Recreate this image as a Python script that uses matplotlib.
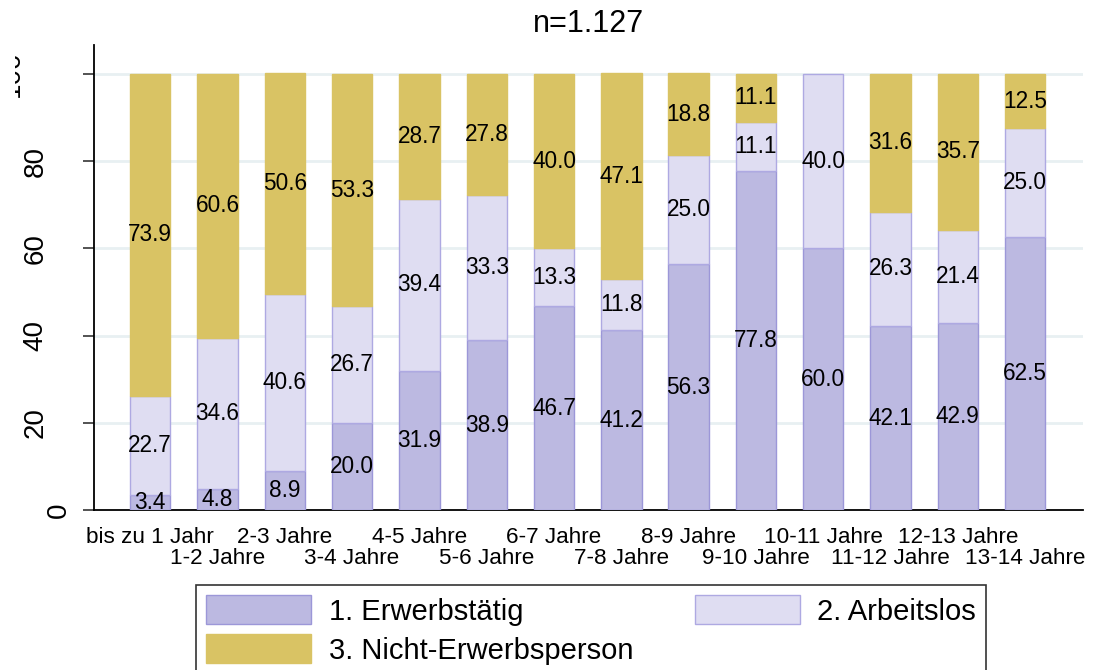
import matplotlib
matplotlib.use("Agg")
import matplotlib.pyplot as plt
from matplotlib.transforms import Bbox, TransformedBbox
import numpy as np

plt.rcParams['font.family'] = ['Liberation Sans', 'DejaVu Sans']

categories = ["bis zu 1 Jahr", "1-2 Jahre", "2-3 Jahre", "3-4 Jahre", "4-5 Jahre",
              "5-6 Jahre", "6-7 Jahre", "7-8 Jahre", "8-9 Jahre", "9-10 Jahre",
              "10-11 Jahre", "11-12 Jahre", "12-13 Jahre", "13-14 Jahre"]
erwerbstaetig = [3.4, 4.8, 8.9, 20.0, 31.9, 38.9, 46.7, 41.2, 56.3, 77.8, 60.0, 42.1, 42.9, 62.5]
arbeitslos = [22.7, 34.6, 40.6, 26.7, 39.4, 33.3, 13.3, 11.8, 25.0, 11.1, 40.0, 26.3, 21.4, 25.0]
nicht_erwerb = [73.9, 60.6, 50.6, 53.3, 28.7, 27.8, 40.0, 47.1, 18.8, 11.1, 0.0, 31.6, 35.7, 12.5]
series_names = ["1. Erwerbstätig", "2. Arbeitslos", "3. Nicht-Erwerbsperson"]
title = "n=1.127"
yticks = [0, 20, 40, 60, 80, 100]

W, H = 1094, 670
fig = plt.figure(figsize=(W / 100, H / 100), dpi=100)
ax_l, ax_r, ax_b, ax_t = 94, 1083, 510, 45
ax = fig.add_axes([ax_l / W, 1 - ax_b / H, (ax_r - ax_l) / W, (ax_b - ax_t) / H])

x = np.arange(len(categories))
fills = ["#bcb9e1", "#dfddf2", "#d9c364"]
edges = ["#9c97d8", "#aea9e2", "#d9c364"]

bottom = np.zeros(len(categories))
handles = []
for vals, fc, ec, name in zip([erwerbstaetig, arbeitslos, nicht_erwerb], fills, edges, series_names):
    vals = np.array(vals)
    bc = ax.bar(x, vals, bottom=bottom, width=0.6, color=fc, edgecolor=ec,
                linewidth=1.0, label=name, zorder=3)
    handles.append(bc)
    for patch, v in zip(bc.patches, vals):
        if v <= 0:
            patch.set_visible(False)
    for xi, b, v in zip(x, bottom, vals):
        if v > 0:
            ax.text(xi, b + v / 2, f"{v:.1f}", ha="center", va="center",
                    fontsize=16.3, color="black", zorder=4)
    bottom = bottom + vals

ax.set_xlim(-0.835, 13.86)
ax.set_ylim(0, 106.6)

# grid
for yv in yticks[1:]:
    ax.axhline(yv, color="#e8f0f2", linewidth=2.0, zorder=1)

for s in ["top", "right"]:
    ax.spines[s].set_visible(False)
ax.spines["left"].set_linewidth(1.3)
ax.spines["bottom"].set_linewidth(1.3)

ax.set_yticks(yticks)
ax.tick_params(axis="y", length=8, width=1.3, color="#444444", labelleft=False)

# y tick labels (rotated, Stata-like offsets)
px_per_ax = 1.0 / (ax_r - ax_l)
clip = TransformedBbox(Bbox([[15 / W, 0], [1, 1]]), fig.transFigure)
for yv in yticks:
    lab = str(yv)
    cx = 35.5 + (2 - len(lab)) * 23.5
    t = ax.text((cx - ax_l) * px_per_ax, yv, lab, transform=ax.get_yaxis_transform(),
                rotation=90, ha="center", va="center", fontsize=20, clip_on=False)
    if yv == 100:
        t.set_clip_on(True)
        t.set_clip_box(clip)

# x tick labels, staggered
ax.set_xticks(x)
xlabels = [c if i % 2 == 0 else "\n" + c for i, c in enumerate(categories)]
ax.set_xticklabels(xlabels, fontsize=16.2)
ax.tick_params(axis="x", length=0, pad=12)
for t in ax.get_xticklabels():
    t.set_linespacing(1.05)

ax.set_title(title, fontsize=22, pad=9)

# column-major fill: col1 = items 1 & 3, col2 = item 2
order = [0, 2, 1]
leg = fig.legend(handles=[handles[i] for i in order], labels=[series_names[i] for i in order],
                 ncol=2, loc="upper left",
                 bbox_to_anchor=(196 / W, 1 - 585 / H, (986 - 196) / W, 0),
                 mode="expand", fontsize=21, frameon=True, fancybox=False,
                 handlelength=3.6, handleheight=1.15, handletextpad=0.6,
                 labelspacing=0.3, borderpad=0.35, borderaxespad=0, columnspacing=1.8)
leg.get_frame().set_edgecolor("black")
leg.get_frame().set_linewidth(1.2)

fig.savefig("out.png", dpi=100)
